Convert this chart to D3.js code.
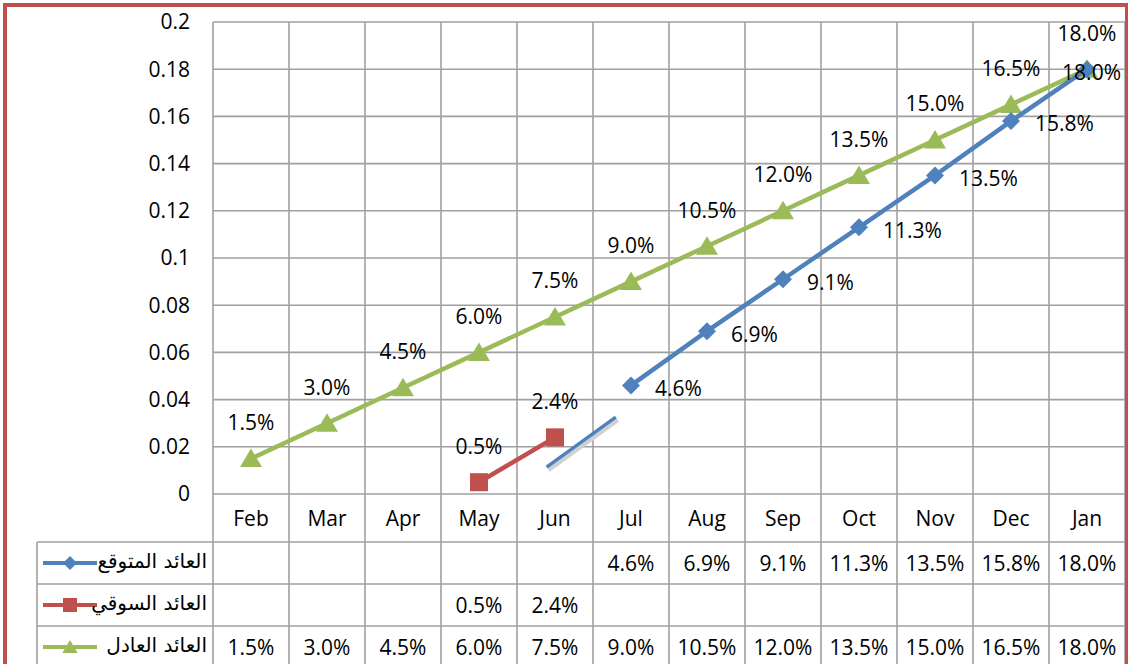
<!DOCTYPE html>
<html>
<head>
<meta charset="utf-8">
<script src="https://cdn.jsdelivr.net/npm/d3@7"></script>
<style>
  body { margin: 0; background: #fff; }
  text { font-family: "Open Sans", "Noto Sans", sans-serif; fill: #000; }
  .ar { font-family: "DejaVu Sans", sans-serif; }
</style>
</head>
<body>
<div id="chart-area"></div>
<script>
// months along the x axis
var months = ["Feb", "Mar", "Apr", "May", "Jun", "Jul", "Aug", "Sep", "Oct", "Nov", "Dec", "Jan"];
// series (null = empty cell)
var expected = [null, null, null, null, null, 0.046, 0.069, 0.091, 0.113, 0.135, 0.158, 0.180];
var market = [null, null, null, 0.005, 0.024, null, null, null, null, null, null, null];
var fair = [0.015, 0.030, 0.045, 0.060, 0.075, 0.090, 0.105, 0.120, 0.135, 0.150, 0.165, 0.180];
var seriesNames = ["العائد المتوقع", "العائد السوقي", "العائد العادل"];
var yTicks = [0, 0.02, 0.04, 0.06, 0.08, 0.1, 0.12, 0.14, 0.16, 0.18, 0.2];
// stray drawn segment near Jun (month index, value)
var strayLine = [[4.39, 0.0114], [5.3, 0.0326]];

var W = 1128, H = 664;
var plot = { left: 213, right: 1125, top: 22, bottom: 494 };
var rowH = 42, headH = 48, legendLeft = 37;
var colors = { expected: "#4f81bd", market: "#c0504d", fair: "#9bbb59" };
var grid = "#a0a0a0";

var svg = d3.select("#chart-area")
	.append("svg")
	.attr("width", W)
	.attr("height", H);

var x = d3.scaleBand()
	.domain(months)
	.range([plot.left, plot.right])
	.paddingInner(0)
	.paddingOuter(0);

var xi = d3.scaleLinear()
	.domain([0, months.length])
	.range([plot.left, plot.right]);

var y = d3.scaleLinear()
	.domain([0, 0.2])
	.range([plot.bottom, plot.top]);

var cx = function (i) { return x(months[i]) + x.bandwidth() / 2; };

// horizontal grid lines
svg.append("g")
	.selectAll("line")
	.data(yTicks)
	.enter()
	.append("line")
	.attr("x1", plot.left)
	.attr("x2", plot.right)
	.attr("y1", d => y(d))
	.attr("y2", d => y(d))
	.attr("stroke", grid)
	.attr("stroke-width", 1.6);

// y tick labels
svg.append("g")
	.selectAll("text")
	.data(yTicks)
	.enter()
	.append("text")
	.attr("x", 190)
	.attr("y", d => y(d))
	.attr("dy", "0.35em")
	.attr("text-anchor", "end")
	.attr("font-size", "21px")
	.text(d => String(+d.toFixed(2)));

// table geometry
var tableTop = plot.bottom + headH;
var tableBottom = tableTop + rowH * 3;

// vertical lines through plot + table
var bounds = months.map(m => x(m)).concat([plot.right]);
svg.append("g")
	.selectAll("line")
	.data(bounds)
	.enter()
	.append("line")
	.attr("x1", d => d)
	.attr("x2", d => d)
	.attr("y1", plot.top)
	.attr("y2", tableBottom)
	.attr("stroke", grid)
	.attr("stroke-width", 1.6);

// table horizontal lines
svg.append("g")
	.selectAll("line")
	.data([0, 1, 2, 3])
	.enter()
	.append("line")
	.attr("x1", legendLeft)
	.attr("x2", plot.right)
	.attr("y1", d => tableTop + d * rowH)
	.attr("y2", d => tableTop + d * rowH)
	.attr("stroke", grid)
	.attr("stroke-width", 1.6);

svg.append("line")
	.attr("x1", legendLeft)
	.attr("x2", legendLeft)
	.attr("y1", tableTop)
	.attr("y2", tableBottom)
	.attr("stroke", grid)
	.attr("stroke-width", 1.6);

// month header labels
svg.append("g")
	.selectAll("text")
	.data(months)
	.enter()
	.append("text")
	.attr("x", (d, i) => cx(i))
	.attr("y", plot.bottom + headH / 2 + 1)
	.attr("dy", "0.35em")
	.attr("text-anchor", "middle")
	.attr("font-size", "21px")
	.text(d => d);

var fmt = d3.format(".1%");

function markerPath(kind, s) {
	if (kind === "diamond") return `M0,${-s}L${s},0L0,${s}L${-s},0Z`;
	if (kind === "square") return `M${-s},${-s}H${s}V${s}H${-s}Z`;
	return `M0,${-s}L${s * 1.1},${s * 0.85}L${-s * 1.1},${s * 0.85}Z`;
}

var series = [
	{ name: seriesNames[0], values: expected, color: colors.expected, marker: "diamond", size: 9, pos: "right" },
	{ name: seriesNames[1], values: market, color: colors.market, marker: "square", size: 9, pos: "above" },
	{ name: seriesNames[2], values: fair, color: colors.fair, marker: "triangle", size: 10, pos: "above" }
];

// table values + legend
series.forEach((s, r) => {
	var rowMid = tableTop + r * rowH + rowH / 2;
	svg.append("g")
		.selectAll("text")
		.data(s.values)
		.enter()
		.filter(d => d != null)
		.append("text")
		.attr("x", d => cx(s.values.indexOf(d)))
		.attr("y", rowMid + 1)
		.attr("dy", "0.35em")
		.attr("text-anchor", "middle")
		.attr("font-size", "21px")
		.text(d => fmt(d));

	var key = svg.append("g").attr("transform", `translate(70, ${rowMid})`);
	key.append("line")
		.attr("x1", -27)
		.attr("x2", 27)
		.attr("stroke", s.color)
		.attr("stroke-width", 4);
	key.append("path")
		.attr("d", markerPath(s.marker, 7))
		.attr("fill", s.color);
	svg.append("text")
		.attr("class", "ar")
		.attr("x", 207)
		.attr("y", rowMid - 2)
		.attr("dy", "0.35em")
		.attr("text-anchor", "end")
		.attr("font-size", "20px")
		.text(s.name);
});

// stray segment with shadow
var stray = d3.line().x(d => xi(d[0])).y(d => y(d[1]));
svg.append("path")
	.attr("d", stray(strayLine))
	.attr("transform", "translate(2,3)")
	.attr("stroke", "#d0d0d0")
	.attr("stroke-width", 4)
	.attr("fill", "none");
svg.append("path")
	.attr("d", stray(strayLine))
	.attr("stroke", colors.expected)
	.attr("stroke-width", 3.5)
	.attr("fill", "none");

// lines, markers, labels (fair first so expected sits on top)
var plotOrder = [series[2], series[1], series[0]];
plotOrder.forEach(s => {
	var pts = s.values.map((v, i) => ({ i: i, v: v })).filter(d => d.v != null);
	var line = d3.line().x(d => cx(d.i)).y(d => y(d.v));
	svg.append("path")
		.attr("d", line(pts))
		.attr("fill", "none")
		.attr("stroke", s.color)
		.attr("stroke-width", 4.5)
		.attr("stroke-linejoin", "round");
	svg.append("g")
		.selectAll("path")
		.data(pts)
		.enter()
		.append("path")
		.attr("transform", d => `translate(${cx(d.i)}, ${y(d.v)})`)
		.attr("d", markerPath(s.marker, s.size))
		.attr("fill", s.color);
});

plotOrder.forEach(s => {
	var pts = s.values.map((v, i) => ({ i: i, v: v })).filter(d => d.v != null);
	svg.append("g")
		.selectAll("text")
		.data(pts)
		.enter()
		.append("text")
		.attr("font-size", "21px")
		.attr("text-anchor", s.pos === "right" ? "start" : "middle")
		.attr("x", d => s.pos === "right" ? cx(d.i) + 24 : cx(d.i))
		.attr("y", d => s.pos === "right" ? y(d.v) + 3 : y(d.v) - 36)
		.attr("dy", "0.35em")
		.text(d => fmt(d.v))
		.each(function (d) {
			var w = this.getComputedTextLength();
			if (s.pos === "right" && cx(d.i) + 24 + w > plot.right - 4) {
				d3.select(this).attr("x", plot.right - 4 - w);
			}
		});
});

// outer red border
svg.append("rect")
	.attr("x", 5)
	.attr("y", 5)
	.attr("width", 1122)
	.attr("height", 720)
	.attr("fill", "none")
	.attr("stroke", "#c0504d")
	.attr("stroke-width", 4);
</script>
</body>
</html>
